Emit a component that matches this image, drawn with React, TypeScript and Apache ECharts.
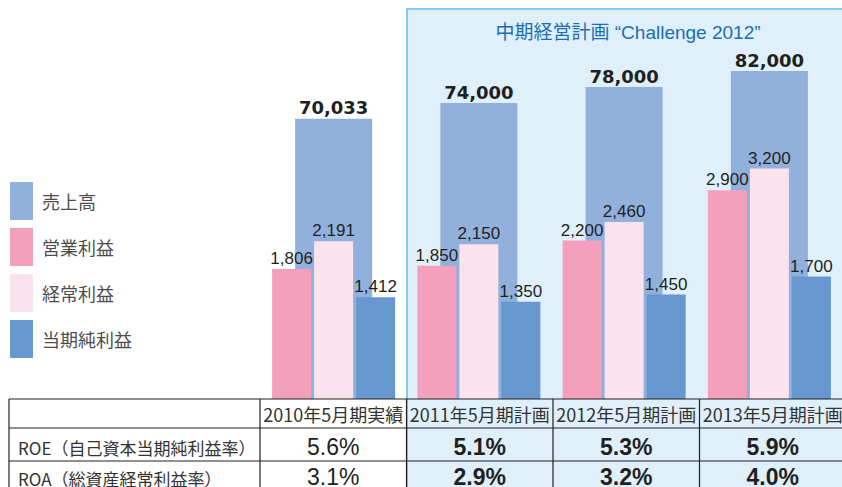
import React, { useEffect, useRef } from "react";
import * as echarts from "echarts";

const categories = ["2010年5月期実績", "2011年5月期計画", "2012年5月期計画", "2013年5月期計画"];
const seriesNames = ["売上高", "営業利益", "経常利益", "当期純利益"];
const sales = [70033, 74000, 78000, 82000];
const operatingIncome = [1806, 1850, 2200, 2900];
const ordinaryIncome = [2191, 2150, 2460, 3200];
const netIncome = [1412, 1350, 1450, 1700];
const rowLabels = ["ROE（自己資本当期純利益率）", "ROA（総資産経常利益率）"];
const roe = ["5.6%", "5.1%", "5.3%", "5.9%"];
const roa = ["3.1%", "2.9%", "3.2%", "4.0%"];
const planTitle = "中期経営計画 “Challenge 2012”";

const COLORS = ["#91b1dc", "#f49fbb", "#fbe3ee", "#6698cf"];
const CJK = '"Noto Sans CJK JP", "Noto Sans", sans-serif';
const LAT = '"Liberation Sans", Arial, sans-serif';
const fmt = (v: number) => v.toLocaleString("en-US");

export default function App() {
  const ref = useRef<HTMLDivElement>(null);
  useEffect(() => {
    if (!ref.current) return;
    const chart = echarts.init(ref.current, null, { renderer: "svg" });

    const colX = [260, 406.5, 553, 699.5, 846];
    const rowY = [399, 428, 461, 495];
    const tableLeft = 9;
    const lineStyle = { stroke: "#231f20", lineWidth: 1.2 };
    const graphics: any[] = [];

    // plan region
    graphics.push({
      type: "rect",
      z: -10,
      shape: { x: 407, y: 9, width: 445, height: 490 },
      style: { fill: "#dff0fa", stroke: "#80cbee", lineWidth: 2 },
    });
    graphics.push({
      type: "text",
      z: 5,
      x: 628,
      y: 32,
      style: {
        text: planTitle,
        fill: "#1e6db4",
        font: `19px "Liberation Sans", "Noto Sans CJK JP", sans-serif`,
        textAlign: "center",
        textVerticalAlign: "middle",
      },
    });

    // table lines
    rowY.slice(0, 3).forEach((y) => {
      graphics.push({ type: "line", z: 20, shape: { x1: tableLeft, y1: y, x2: 842, y2: y }, style: lineStyle });
    });
    [tableLeft, ...colX.slice(0, 4)].forEach((x) => {
      graphics.push({ type: "line", z: 20, shape: { x1: x, y1: rowY[0], x2: x, y2: 490 }, style: lineStyle });
    });
    graphics.push({
      type: "rect",
      z: -5,
      shape: { x: tableLeft, y: rowY[0], width: colX[1] - tableLeft, height: 100 },
      style: { fill: "#ffffff" },
    });

    categories.forEach((c, i) => {
      const cx = (colX[i] + colX[i + 1]) / 2;
      const isPlan = c.endsWith("計画");
      graphics.push({
        type: "text",
        z: 21,
        x: cx,
        y: 414,
        style: { text: c, fill: "#333333", font: `18px ${CJK}`, textAlign: "center", textVerticalAlign: "middle" },
      });
      [roe, roa].forEach((arr, r) => {
        graphics.push({
          type: "text",
          z: 21,
          x: cx,
          y: r === 0 ? 447 : 477,
          style: {
            text: arr[i],
            fill: "#231f20",
            font: `${isPlan ? "bold " : ""}23px ${LAT}`,
            textAlign: "center",
            textVerticalAlign: "middle",
          },
        });
      });
    });
    rowLabels.forEach((t, r) => {
      graphics.push({
        type: "text",
        z: 21,
        x: 18,
        y: r === 0 ? 447 : 478,
        style: { text: t, fill: "#333333", font: `17px ${CJK}`, textAlign: "left", textVerticalAlign: "middle" },
      });
    });

    const smallLabel = {
      show: true,
      position: "top" as const,
      distance: 2,
      color: "#231f20",
      fontSize: 17,
      fontFamily: LAT,
      formatter: (p: any) => fmt(p.value),
    };

    chart.setOption({
      animation: false,
      legend: {
        orient: "vertical",
        left: 10,
        top: 182,
        padding: 0,
        itemWidth: 23,
        itemHeight: 38,
        itemGap: 8,
        icon: "rect",
        data: seriesNames,
        textStyle: { fontSize: 18, color: "#4d4d4d", fontFamily: CJK, padding: [0, 0, 0, 4] },
        selectedMode: false,
      },
      grid: { left: 261, width: 586, top: 39, height: 360 },
      xAxis: [
        { type: "category", data: categories, axisLine: { show: false }, axisTick: { show: false }, axisLabel: { show: false } },
        { type: "category", data: categories, show: false },
      ],
      yAxis: [
        { type: "value", min: 0, max: 5000, show: false, splitLine: { show: false } },
        { type: "value", min: 0, max: 90000, show: false, splitLine: { show: false } },
      ],
      graphic: graphics,
      series: [
        {
          name: seriesNames[0],
          type: "bar",
          xAxisIndex: 1,
          yAxisIndex: 1,
          data: sales,
          barWidth: 77,
          itemStyle: { color: COLORS[0] },
          z: 1,
          label: {
            show: true,
            position: "top",
            distance: 2,
            color: "#231f20",
            fontSize: 18,
            fontWeight: "bold",
            fontFamily: '"DejaVu Sans", sans-serif',
            formatter: (p: any) => fmt(p.value),
          },
        },
        {
          name: seriesNames[1],
          type: "bar",
          xAxisIndex: 0,
          yAxisIndex: 0,
          data: operatingIncome,
          barWidth: 39,
          barGap: "7.7%",
          itemStyle: { color: COLORS[1] },
          z: 3,
          label: smallLabel,
        },
        {
          name: seriesNames[2],
          type: "bar",
          xAxisIndex: 0,
          yAxisIndex: 0,
          data: ordinaryIncome,
          barWidth: 39,
          barGap: "7.7%",
          itemStyle: { color: COLORS[2] },
          z: 3,
          label: smallLabel,
        },
        {
          name: seriesNames[3],
          type: "bar",
          xAxisIndex: 0,
          yAxisIndex: 0,
          data: netIncome,
          barWidth: 39,
          barGap: "7.7%",
          itemStyle: { color: COLORS[3] },
          z: 3,
          label: smallLabel,
        },
      ],
    });
    return () => chart.dispose();
  }, []);
  return <div ref={ref} style={{ position: "fixed", left: 0, top: 0, width: 842, height: 487, background: "#fff" }} />;
}
